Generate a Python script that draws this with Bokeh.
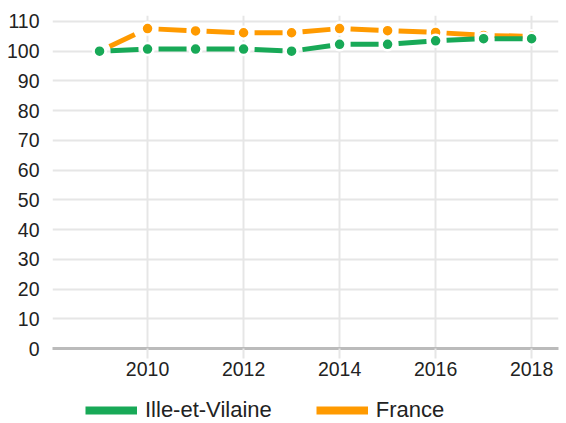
from bokeh.plotting import figure
from bokeh.models import Range1d, Legend, LegendItem, FixedTicker, ColumnDataSource
from bokeh.layouts import column
from bokeh.embed import file_html
from bokeh.resources import INLINE

years = [2009, 2010, 2011, 2012, 2013, 2014, 2015, 2016, 2017, 2018]
ille = [100.0, 100.7, 100.7, 100.7, 100.0, 102.3, 102.3, 103.5, 104.2, 104.2]
france = [100.0, 107.6, 106.8, 106.2, 106.2, 107.6, 106.9, 106.3, 105.3, 105.0]
y_ticks = [0, 10, 20, 30, 40, 50, 60, 70, 80, 90, 100, 110]
x_ticks = [2010, 2012, 2014, 2016, 2018]
series_names = ["Ille-et-Vilaine", "France"]

GREEN = "#18a957"
ORANGE = "#ff9a00"
FONT = "Liberation Sans"

p = figure(width=566, height=390, output_backend="svg", toolbar_location=None,
           x_range=Range1d(2008.02, 2018.56), y_range=Range1d(0, 112),
           min_border_left=52, min_border_right=8, min_border_top=15, min_border_bottom=42)
p.outline_line_color = None
p.background_fill_color = "white"

p.xgrid.ticker = FixedTicker(ticks=x_ticks)
p.ygrid.ticker = FixedTicker(ticks=y_ticks)
for g in (p.xgrid, p.ygrid):
    g.grid_line_color = "#e6e6e6"
    g.grid_line_width = 2

p.xaxis.ticker = FixedTicker(ticks=x_ticks)
p.yaxis.ticker = FixedTicker(ticks=y_ticks)
p.xaxis.axis_line_color = "#bbbbbb"
p.xaxis.axis_line_width = 3
p.xaxis.major_tick_line_color = "#e6e6e6"
p.xaxis.major_tick_line_width = 2
p.xaxis.major_tick_out = 10
p.xaxis.major_tick_in = 0
p.xaxis.minor_tick_line_color = None
p.xaxis.major_label_standoff = 3
p.yaxis.axis_line_color = None
p.yaxis.major_tick_line_color = None
p.yaxis.minor_tick_line_color = None
p.yaxis.major_label_standoff = 7
for ax in (p.xaxis, p.yaxis):
    ax.major_label_text_font = FONT
    ax.major_label_text_font_size = "19.5px"
    ax.major_label_text_color = "#222222"

def draw(vals, color):
    src = ColumnDataSource(dict(x0=years[:-1], x1=years[1:], y0=vals[:-1], y1=vals[1:]))
    p.segment(x0="x0", y0="y0", x1="x1", y1="y1", source=src, line_color=color,
              line_width=5, line_dash="28 20", line_dash_offset=37)
    p.scatter(years, vals, size=12, fill_color=color, line_color="white", line_width=2.5)

draw(france, ORANGE)
draw(ille, GREEN)

# legend in its own strip below the chart
lf = figure(width=566, height=33, output_backend="svg", toolbar_location=None,
            x_range=Range1d(0, 1), y_range=Range1d(0, 1),
            x_axis_type=None, y_axis_type=None,
            min_border_left=0, min_border_right=0, min_border_top=0, min_border_bottom=0)
lf.grid.visible = False
lf.outline_line_color = None
lg_ille = lf.line([-5, -4], [-5, -5], line_color=GREEN, line_width=8, line_cap="butt")
lg_fr = lf.line([-5, -4], [-5, -5], line_color=ORANGE, line_width=8, line_cap="butt")
legend = Legend(items=[LegendItem(label=series_names[0], renderers=[lg_ille]),
                       LegendItem(label=series_names[1], renderers=[lg_fr])],
                orientation="horizontal", location=(33, 0))
legend.label_text_font = FONT
legend.label_text_font_size = "22px"
legend.label_text_color = "#222222"
legend.glyph_width = 52
legend.glyph_height = 22
legend.label_height = 22
legend.label_standoff = 8
legend.spacing = 44
legend.border_line_color = None
legend.background_fill_alpha = 0
legend.padding = 0
legend.margin = 0
lf.add_layout(legend)

layout = column(p, lf)
open("out.html", "w").write(file_html(layout, INLINE))
